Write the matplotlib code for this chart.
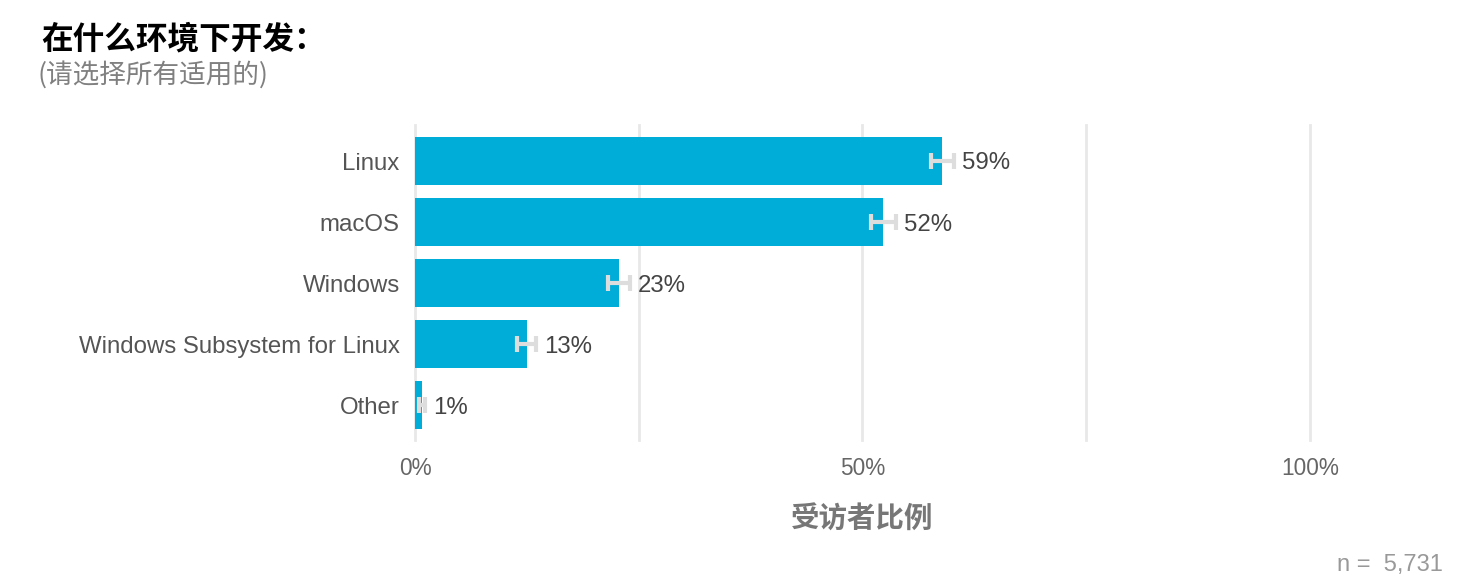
import numpy as np
import matplotlib
matplotlib.use("Agg")
import matplotlib.pyplot as plt
from matplotlib.ticker import FixedLocator

plt.rcParams['font.family'] = ['Liberation Sans', 'Noto Sans CJK SC', 'DejaVu Sans']

# data
categories = ["Linux", "macOS", "Windows", "Windows Subsystem for Linux", "Other"]
shares = [58.9, 52.3, 22.8, 12.5, 0.8]
errors = [1.3, 1.4, 1.2, 1.05, 0.3]
value_labels = ["59%", "52%", "23%", "13%", "1%"]
tick_values = [0, 50, 100]
tick_labels = ["0%", "50%", "100%"]
grid_values = [0, 25, 50, 75, 100]

title = "在什么环境下开发："
subtitle = "(请选择所有适用的)"
xlabel = "受访者比例"
n_text = "n =  5,731"

W, H = 1471, 587
fig = plt.figure(figsize=(W / 100, H / 100), dpi=100)
ax = fig.add_axes([415 / W, 1 - 440 / H, (1310 - 415) / W, (440 - 125) / H])

y = np.arange(len(categories))
ax.barh(y, shares, height=0.79, color="#00ADD8", zorder=2)
ax.errorbar(shares, y, xerr=errors, fmt="none", ecolor="#DDDDDD",
            elinewidth=3, capsize=6, capthick=3, zorder=3)

for yi, v, e, lab in zip(y, shares, errors, value_labels):
    ax.text(v + e + 0.9, yi + 0.04, lab, va="center", ha="left",
            fontsize=17.3, color="#444444", zorder=4)

ax.set_xlim(0, 100)
ax.set_ylim(len(categories) - 1 + 0.57, -0.59)
ax.xaxis.set_major_locator(FixedLocator(tick_values))
ax.set_xticklabels(tick_labels)
ax.set_yticks(y)
ax.set_yticklabels(categories)

for g in grid_values:
    ax.axvline(g, color="#E8E8E8", lw=2, zorder=0, clip_on=False)

ax.tick_params(axis="both", length=0)
ax.tick_params(axis="y", labelsize=17.3, labelcolor="#555555", pad=11)
ax.tick_params(axis="x", labelsize=16.3, labelcolor="#666666", pad=12)
for s in ax.spines.values():
    s.set_visible(False)

ax.set_xlabel(xlabel, fontsize=20.5, color="#777777", fontweight="bold",
              family=["Noto Sans CJK SC", "DejaVu Sans"], labelpad=19)

fig.text(41 / W, 1 - 39 / H, title, fontsize=22.8, fontweight="bold", color="black",
         family=["Noto Sans CJK SC", "DejaVu Sans"], va="center", ha="left")
fig.text(38 / W, 1 - 75 / H, subtitle, fontsize=19.2, color="#808080",
         family=["Noto Sans CJK SC", "DejaVu Sans"], va="center", ha="left")
fig.text(1443 / W, 1 - 565 / H, n_text, fontsize=17, color="#999999",
         va="center", ha="right")

fig.savefig("out.png", dpi=100)
